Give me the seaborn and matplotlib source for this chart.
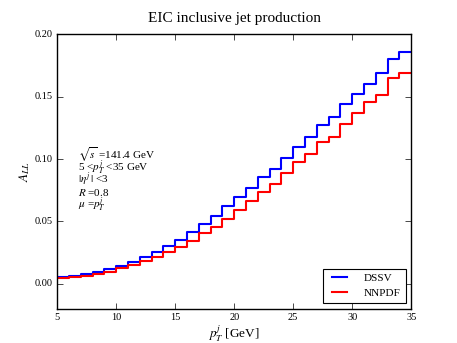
import matplotlib
matplotlib.use("Agg")
import matplotlib.pyplot as plt
import seaborn as sns
import pandas as pd
import numpy as np

plt.style.use("classic")
plt.rcParams["font.family"] = ["Liberation Serif", "DejaVu Serif"]
plt.rcParams["mathtext.fontset"] = "stix"

bin_edges = list(range(5, 36))
dssv = [0.0051, 0.0064, 0.0078, 0.0094, 0.0115, 0.0144, 0.0176, 0.0216, 0.0256, 0.0304,
        0.0350, 0.0416, 0.0483, 0.0547, 0.0620, 0.0696, 0.0770, 0.0856, 0.0920, 0.1010,
        0.1100, 0.1180, 0.1270, 0.1340, 0.1440, 0.1520, 0.1600, 0.1690, 0.1800, 0.1860]
nnpdf = [0.0043, 0.0051, 0.0064, 0.0078, 0.0096, 0.0123, 0.0150, 0.0184, 0.0216, 0.0251,
         0.0291, 0.0344, 0.0403, 0.0456, 0.0523, 0.0595, 0.0664, 0.0736, 0.0800, 0.0890,
         0.0980, 0.1040, 0.1140, 0.1180, 0.1280, 0.1370, 0.1460, 0.1515, 0.1650, 0.1690]
series_names = ["DSSV", "NNPDF"]
series_colors = ["blue", "red"]
x_ticks = [5, 10, 15, 20, 25, 30, 35]
y_ticks = [0.00, 0.05, 0.10, 0.15, 0.20]

rows = []
for name, vals in zip(series_names, [dssv, nnpdf]):
    yv = vals + [vals[-1]]
    for xe, v in zip(bin_edges, yv):
        rows.append({"pT": xe, "ALL": v, "pdf": name})
df = pd.DataFrame(rows)

fig = plt.figure(figsize=(4.57, 3.43), dpi=100)
fig.patch.set_facecolor("white")
ax = fig.add_axes([0.125, 0.1, 0.775, 0.8])

sns.lineplot(data=df, x="pT", y="ALL", hue="pdf", palette=series_colors,
             drawstyle="steps-post", linewidth=1.5, ax=ax, estimator=None,
             sort=False)

ax.set_xlim(5, 35)
ax.set_ylim(-0.02, 0.20)
ax.set_xticks(x_ticks)
ax.set_yticks(y_ticks)
ax.set_xticklabels([str(t) for t in x_ticks])
ax.set_yticklabels(["%.2f" % t for t in y_ticks])
ax.tick_params(labelsize=7.5, direction="in", top=True, right=True, length=4, pad=3)
ax.set_xlabel(r"$p_T^j$ [GeV]", fontsize=9.5, labelpad=1)
ax.set_ylabel(r"$A_{LL}$", fontsize=9.5, labelpad=2)
ax.set_title("EIC inclusive jet production", fontsize=11, pad=9)

leg = ax.legend(loc="lower right", fontsize=8, fancybox=False, frameon=True,
                handlelength=2.0, borderpad=0.45, labelspacing=0.45,
                handletextpad=1.2, borderaxespad=0.5)
leg.get_frame().set_edgecolor("black")
leg.get_frame().set_linewidth(0.8)

lines = [r"$\sqrt{s}$ =141.4 GeV", r"5 <$p_T^j$ <35 GeV", r"$|\eta^j\,|$ <3",
         r"$R$ =0.8", r"$\mu$ =$p_T^j$"]
for i, t in enumerate(lines):
    ax.text(0.06, 0.56 - i * 0.045, t, transform=ax.transAxes, fontsize=8,
            va="center", ha="left")

fig.savefig("out.png", dpi=100, facecolor="white")
